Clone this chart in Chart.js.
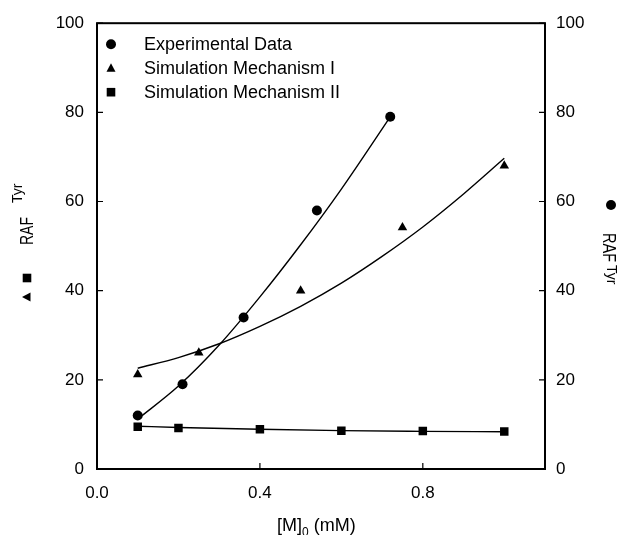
<!DOCTYPE html>
<html>
<head>
<meta charset="utf-8">
<script src="https://cdn.jsdelivr.net/npm/chart.js@4.4.0/dist/chart.umd.min.js"></script>
<style>
  html, body { margin: 0; padding: 0; background: #fff; }
  #wrap { width: 626px; height: 535px; }
</style>
</head>
<body>
<div id="wrap"><canvas id="rafChart" width="626" height="535"></canvas></div>
<script>
// values
const expX = [0.1, 0.21, 0.36, 0.54, 0.72];
const expY = [12, 19, 34, 58, 79];
const mech1X = [0.1, 0.25, 0.5, 0.75, 1.0];
const mech1Y = [21.2, 26.1, 40, 54.2, 68];
const mech2X = [0.1, 0.2, 0.4, 0.6, 0.8, 1.0];
const mech2Y = [9.5, 9.2, 8.9, 8.6, 8.5, 8.4];

// fitted curves
const expFitX = [0.1, 0.2, 0.3, 0.4, 0.5, 0.6, 0.72];
const expFitY = [11.2, 18.6, 27.8, 38.6, 50.3, 62.8, 79.0];
const mech1FitX = [0.1, 0.2, 0.3, 0.4, 0.5, 0.6, 0.7, 0.8, 0.9, 1.0];
const mech1FitY = [22.6, 25.0, 28.1, 32.0, 36.5, 41.7, 47.7, 54.3, 61.7, 69.7];
const mech2FitX = [0.1, 0.2, 0.4, 0.6, 0.8, 1.0];
const mech2FitY = [9.6, 9.3, 8.9, 8.6, 8.45, 8.35];

const xTicks = [0, 0.4, 0.8];
const yTicks = [0, 20, 40, 60, 80, 100];
const legendLabels = ["Experimental Data", "Simulation Mechanism I", "Simulation Mechanism II"];

const FONT = '"Liberation Sans", Arial, sans-serif';

function pairs(xs, ys) {
    return xs.map((x, i) => ({ x: x, y: ys[i] }));
}

function marker(ctx, shape, x, y) {
    ctx.beginPath();
    if (shape === 'circle') {
        ctx.arc(x, y, 5, 0, Math.PI * 2);
    } else if (shape === 'triangle') {
        ctx.moveTo(x, y - 5);
        ctx.lineTo(x + 4.5, y + 3.5);
        ctx.lineTo(x - 4.5, y + 3.5);
        ctx.closePath();
    } else if (shape === 'triLeft') {
        ctx.moveTo(x - 5, y);
        ctx.lineTo(x + 3.5, y - 4.5);
        ctx.lineTo(x + 3.5, y + 4.5);
        ctx.closePath();
    } else {
        ctx.rect(x - 4.3, y - 4.3, 8.6, 8.6);
    }
    ctx.fill();
}

// rotated "RAF" with superscript "Tyr", RAF squeezed along its length
function rafTitle(ctx, x, y, angle, rafLen, gap, raise) {
    ctx.save();
    ctx.translate(x, y);
    ctx.rotate(angle);
    ctx.textBaseline = 'alphabetic';
    ctx.textAlign = 'left';
    ctx.font = '19px ' + FONT;
    const w = ctx.measureText('RAF').width;
    ctx.save();
    ctx.scale(rafLen / w, 1);
    ctx.fillText('RAF', 0, 0);
    ctx.restore();
    ctx.font = '14px ' + FONT;
    ctx.fillText('Tyr', rafLen + gap, -raise);
    ctx.restore();
}

const framePlugin = {
    id: 'frame',
    afterDraw(chart) {
        const ctx = chart.ctx;
        const a = chart.chartArea;
        const sx = chart.scales.x, sy = chart.scales.y;
        ctx.save();
        ctx.strokeStyle = '#000';
        ctx.fillStyle = '#000';
        ctx.lineWidth = 2;
        ctx.strokeRect(a.left, a.top, a.right - a.left, a.bottom - a.top);

        // ticks point into the plot
        ctx.lineWidth = 1.2;
        ctx.beginPath();
        xTicks.forEach(v => {
            const px = sx.getPixelForValue(v);
            ctx.moveTo(px, a.bottom);
            ctx.lineTo(px, a.bottom - 6);
        });
        yTicks.forEach(v => {
            const py = sy.getPixelForValue(v);
            ctx.moveTo(a.left, py);
            ctx.lineTo(a.left + 6, py);
            ctx.moveTo(a.right, py);
            ctx.lineTo(a.right - 6, py);
        });
        ctx.stroke();

        // legend in the top-left corner
        const shapes = ['circle', 'triangle', 'square'];
        ctx.font = '18px ' + FONT;
        ctx.textBaseline = 'middle';
        ctx.textAlign = 'left';
        legendLabels.forEach((lab, i) => {
            const y = a.top + 21 + i * 24;
            marker(ctx, shapes[i], a.left + 14, y);
            ctx.fillText(lab, a.left + 47, y + 1);
        });

        // left axis title: RAF^Tyr with triangle / square
        rafTitle(ctx, 33, 245, -Math.PI / 2, 28, 14, 11);
        marker(ctx, 'square', 27, 278);
        marker(ctx, 'triLeft', 27, 297);

        // right axis title: circle RAF^Tyr
        marker(ctx, 'circle', 611, 205);
        rafTitle(ctx, 603, 233, Math.PI / 2, 29, 3, 4);

        // x axis title: [M]0 (mM)
        ctx.textBaseline = 'alphabetic';
        ctx.font = '18px ' + FONT;
        let x = 277;
        ctx.fillText('[M]', x, 531);
        x += ctx.measureText('[M]').width;
        ctx.font = '12px ' + FONT;
        ctx.fillText('0', x, 536);
        x += ctx.measureText('0').width;
        ctx.font = '18px ' + FONT;
        ctx.fillText(' (mM)', x, 531);
        ctx.restore();
    }
};

const pointStyle = (shape, radius) => ({
    showLine: false,
    pointStyle: shape,
    pointRadius: radius,
    pointBackgroundColor: '#000',
    pointBorderColor: '#000',
    pointBorderWidth: 0,
    backgroundColor: '#000',
    borderColor: '#000'
});

const fitStyle = {
    showLine: true,
    pointRadius: 0,
    borderColor: '#000',
    borderWidth: 1.4,
    cubicInterpolationMode: 'monotone',
    fill: false
};

new Chart(document.getElementById('rafChart').getContext('2d'), {
    type: 'scatter',
    data: {
        datasets: [
            Object.assign({ label: 'Experimental fit', data: pairs(expFitX, expFitY), yAxisID: 'y2' }, fitStyle),
            Object.assign({ label: 'Mechanism I fit', data: pairs(mech1FitX, mech1FitY) }, fitStyle),
            Object.assign({ label: 'Mechanism II fit', data: pairs(mech2FitX, mech2FitY) }, fitStyle),
            Object.assign({ label: legendLabels[0], data: pairs(expX, expY), yAxisID: 'y2' }, pointStyle('circle', 5)),
            Object.assign({ label: legendLabels[1], data: pairs(mech1X, mech1Y) }, pointStyle('triangle', 5.5)),
            Object.assign({ label: legendLabels[2], data: pairs(mech2X, mech2Y) }, pointStyle('rect', 6))
        ]
    },
    options: {
        responsive: false,
        animation: false,
        layout: { padding: { top: 22, left: 0, right: 0, bottom: 0 } },
        plugins: {
            legend: { display: false },
            tooltip: { enabled: false }
        },
        scales: {
            x: {
                type: 'linear',
                min: 0,
                max: 1.1,
                grid: { display: false, drawTicks: false },
                border: { display: false },
                afterBuildTicks: s => { s.ticks = xTicks.map(v => ({ value: v })); },
                afterFit: s => { s.height = 66; },
                ticks: {
                    padding: 14,
                    color: '#000',
                    font: { family: FONT, size: 17 },
                    callback: v => Number(v).toFixed(1)
                }
            },
            y: {
                position: 'left',
                min: 0,
                max: 100,
                grid: { display: false, drawTicks: false },
                border: { display: false },
                afterBuildTicks: s => { s.ticks = yTicks.map(v => ({ value: v })); },
                afterFit: s => { s.width = 97; },
                ticks: { padding: 13, color: '#000', font: { family: FONT, size: 17 } }
            },
            y2: {
                position: 'right',
                min: 0,
                max: 100,
                grid: { display: false, drawTicks: false },
                border: { display: false },
                afterBuildTicks: s => { s.ticks = yTicks.map(v => ({ value: v })); },
                afterFit: s => { s.width = 81; },
                ticks: { padding: 11, color: '#000', font: { family: FONT, size: 17 } }
            }
        }
    },
    plugins: [framePlugin]
});
</script>
</body>
</html>
